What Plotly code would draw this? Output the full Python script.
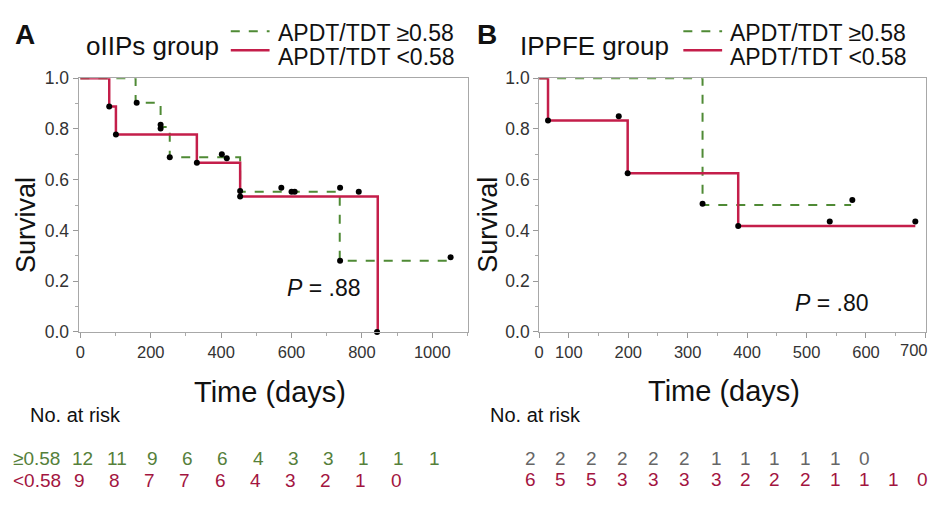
import plotly.graph_objects as go

W, H = 930, 511
FONT = "Liberation Sans, Arial, sans-serif"
GREEN = "#4f8a35"
RED = "#c41e4a"
GREEN_TXT = "#55803a"
RED_TXT = "#a3153f"

# ---------------- Panel A: oIIPs group ----------------
a_hi_x = [0, 157, 228, 254, 454, 737, 1051]
a_hi_y = [1.0, 0.903, 0.808, 0.688, 0.552, 0.28, 0.28]
a_hi_cx = [160, 228, 228, 254, 402, 416, 454, 571, 600, 609, 738, 738, 1052]
a_hi_cy = [0.903, 0.817, 0.802, 0.688, 0.70, 0.685, 0.555, 0.568, 0.552, 0.552, 0.568, 0.28, 0.294]

a_lo_x = [0, 82, 101, 331, 454, 845]
a_lo_y = [1.0, 0.889, 0.778, 0.667, 0.534, 0.0]
a_lo_cx = [82, 101, 331, 454, 791, 843]
a_lo_cy = [0.889, 0.778, 0.667, 0.534, 0.552, 0.0]

a_risk_days = [0, 100, 200, 300, 400, 500, 600, 700, 800, 900, 1000]
a_risk_hi = [12, 11, 9, 6, 6, 4, 3, 3, 1, 1, 1]
a_risk_lo = [9, 8, 7, 7, 6, 4, 3, 2, 1, 0]

# ---------------- Panel B: IPPFE group ----------------
b_hi_x = [50, 325, 575]
b_hi_y = [1.0, 0.5, 0.5]
b_hi_cx = [325, 577]
b_hi_cy = [0.505, 0.52]

b_lo_x = [50, 65, 199, 385, 683]
b_lo_y = [1.0, 0.833, 0.625, 0.417, 0.417]
b_lo_cx = [65, 184, 199, 385, 539, 683]
b_lo_cy = [0.833, 0.85, 0.625, 0.417, 0.435, 0.435]

b_risk_hi = [2, 2, 2, 2, 2, 2, 1, 1, 1, 1, 1, 0]
b_risk_lo = [6, 5, 5, 3, 3, 3, 3, 2, 2, 2, 1, 1, 1, 0]
# column positions of the panel B risk table (pixels from the left edge)
b_risk_cols = [528, 559, 590, 621, 652, 683, 715, 745, 774, 805, 835, 864, 893, 922]

a_xticks = [0, 200, 400, 600, 800, 1000]
b_xticks = [50, 100, 200, 300, 400, 500, 600, 700]
b_xtext = ["0", "100", "200", "300", "400", "500", "600", ""]


def px(x):
    return x / W


def py(y):
    return 1 - y / H


fig = go.Figure()


def add_panel(xa, ya, hx, hy, hcx, hcy, lx, ly, lcx, lcy):
    fig.add_trace(go.Scatter(x=hx, y=hy, mode="lines", line=dict(color=GREEN, width=2, dash="dash", shape="hv"),
                             xaxis=xa, yaxis=ya, showlegend=False, hoverinfo="skip"))
    fig.add_trace(go.Scatter(x=lx, y=ly, mode="lines", line=dict(color=RED, width=2.5, shape="hv"),
                             xaxis=xa, yaxis=ya, showlegend=False, hoverinfo="skip"))
    fig.add_trace(go.Scatter(x=hcx + lcx, y=hcy + lcy, mode="markers", marker=dict(color="black", size=6),
                             xaxis=xa, yaxis=ya, showlegend=False, hoverinfo="skip", cliponaxis=False))


add_panel("x", "y", a_hi_x, a_hi_y, a_hi_cx, a_hi_cy, a_lo_x, a_lo_y, a_lo_cx, a_lo_cy)
add_panel("x2", "y2", b_hi_x, b_hi_y, b_hi_cx, b_hi_cy, b_lo_x, b_lo_y, b_lo_cx, b_lo_cy)

ax_common = dict(showline=True, linecolor="#a8a8a8", linewidth=1, mirror=True, ticks="outside",
                 ticklen=5, tickcolor="#999", showgrid=False, zeroline=False,
                 tickfont=dict(family=FONT, size=16.5, color="#333"))
ydom = [py(335), py(71)]
yfont = dict(family=FONT, size=17.5, color="#333")

fig.update_layout(
    width=W, height=H, margin=dict(l=0, r=0, t=0, b=0),
    paper_bgcolor="white", plot_bgcolor="white",
    xaxis=dict(domain=[px(74), px(465)], range=[-5, 1100], tickvals=a_xticks,
               minor=dict(dtick=100, tick0=0, ticks="outside", ticklen=3, tickcolor="#aaa"), **ax_common),
    yaxis=dict(domain=ydom, range=[0, 1], dtick=0.2, tickformat=".1f", anchor="x",
               minor=dict(dtick=0.1, ticks="outside", ticklen=3, tickcolor="#aaa"), **ax_common),
    xaxis2=dict(domain=[px(537), px(926)], range=[50, 701], tickvals=b_xticks, ticktext=b_xtext, anchor="y2",
                minor=dict(dtick=50, tick0=50, ticks="outside", ticklen=3, tickcolor="#aaa"), **ax_common),
    yaxis2=dict(domain=ydom, range=[0, 1], dtick=0.2, tickformat=".1f", anchor="x2",
                minor=dict(dtick=0.1, ticks="outside", ticklen=3, tickcolor="#aaa"), **ax_common),
)
fig.update_yaxes(tickfont=yfont)

ann = []


def text(x, y, s, size, color="#111", xanchor="left", bold=False, angle=0, xref="paper"):
    ann.append(dict(x=x if xref != "paper" else px(x), y=py(y), xref=xref, yref="paper", text=("<b>%s</b>" % s) if bold else s,
                    showarrow=False, xanchor=xanchor, yanchor="middle", textangle=angle,
                    font=dict(family=FONT, size=size, color=color)))


# last x tick label of panel B, kept inside the page
text(930, 354, "700", 16.5, color="#333", xanchor="right")

# titles
text(8, 26, "A", 28, bold=True)
text(473, 26, "B", 28, bold=True)
text(79, 37, "oIIPs group", 26)
text(516, 37, "IPPFE group", 26)
# legends
for lx0, lx1, tx in [(227, 266, 272), (682, 721, 727)]:
    fig.add_shape(type="line", xref="paper", yref="paper", x0=px(lx0), x1=px(lx1), y0=py(22), y1=py(22),
                  line=dict(color=GREEN, width=2, dash="dash"))
    fig.add_shape(type="line", xref="paper", yref="paper", x0=px(lx0), x1=px(lx1), y0=py(42), y1=py(42),
                  line=dict(color=RED, width=2.5))
    text(tx, 24, "APDT/TDT ≥0.58", 23)
    text(tx, 49, "APDT/TDT &lt;0.58", 23)

# axis titles
text(21, 224, "Survival", 27, xanchor="center", angle=-90)
text(486, 223, "Survival", 27, xanchor="center", angle=-90)
text(266, 398, "Time (days)", 29, xanchor="center")
text(723, 397, "Time (days)", 29, xanchor="center")

# p values
text(282, 289, "<i>P</i> = .88", 23)
text(792, 305, "<i>P</i> = .80", 23)

# at risk
RS = 19
text(23, 421, "No. at risk", 20)
text(486, 421, "No. at risk", 20)
text(6, 467, "≥0.58", RS, color=GREEN_TXT)
text(6, 490, "&lt;0.58", RS, color=RED_TXT)
for d, v in zip(a_risk_days, a_risk_hi):
    text(d + 5, 467, str(v), RS, color=GREEN_TXT, xanchor="center", xref="x")
for d, v in zip(a_risk_days, a_risk_lo):
    text(d - 3, 490, str(v), RS, color=RED_TXT, xanchor="center", xref="x")
for c, v in zip(b_risk_cols, b_risk_hi):
    text(c, 467, str(v), RS, color="#666", xanchor="center")
for c, v in zip(b_risk_cols, b_risk_lo):
    text(c, 489, str(v), RS, color=RED_TXT, xanchor="center")

fig.update_layout(annotations=ann)
fig.write_html("out.html")
